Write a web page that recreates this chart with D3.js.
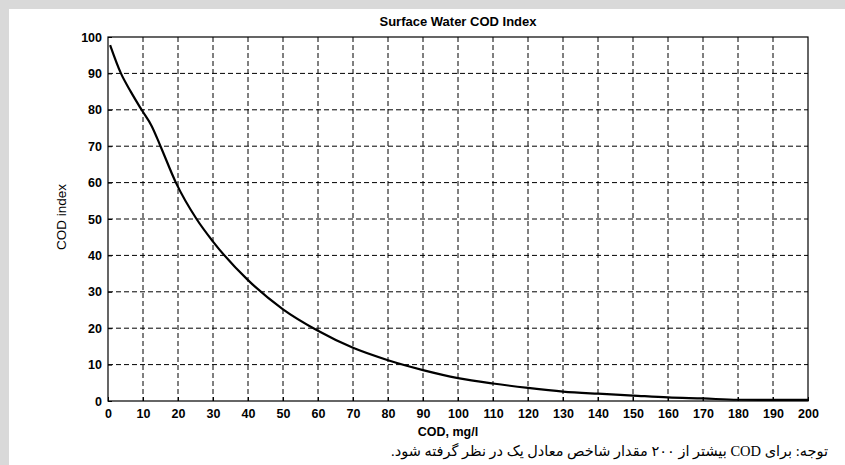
<!DOCTYPE html>
<html>
<head>
<meta charset="utf-8">
<script src="https://cdn.jsdelivr.net/npm/d3@7"></script>
<style>
  body { margin: 0; background: #d9d9d9; }
  svg { display: block; }
</style>
</head>
<body>
<svg id="chart"></svg>
<script>
// values
const codX = [0.6, 3.7, 6.5, 9.6, 12.5, 15, 19.4, 25.3, 30, 40, 50, 60, 70, 80, 90, 100, 110, 120, 130, 140, 150, 160, 170, 180, 190, 200];
const codIndex = [97.8, 90, 85, 80, 75.5, 70, 60, 50, 43.8, 33.2, 25.2, 19.3, 14.6, 11.2, 8.5, 6.3, 4.8, 3.6, 2.6, 2.0, 1.5, 1.0, 0.7, 0.35, 0.3, 0.3];
const xTicks = d3.range(0, 201, 10);
const yTicks = d3.range(0, 101, 10);

const W = 845, H = 465;
const svg = d3.select('#chart').attr('width', W).attr('height', H);

// white sheet inside grey frame
svg.append('rect').attr('x', 9).attr('y', 9).attr('width', W - 9).attr('height', H - 9).attr('fill', '#fff');

const margin = { top: 37, left: 108, right: 37, bottom: 64 };
const width = W - margin.left - margin.right;
const height = H - margin.top - margin.bottom;

const g = svg.append('g').attr('transform', `translate(${margin.left},${margin.top})`);

const x = d3.scaleLinear().domain([0, 200]).range([0, width]);
const y = d3.scaleLinear().domain([0, 100]).range([height, 0]);

// grid
g.append('g')
  .selectAll('line')
  .data(xTicks.slice(1, -1))
  .join('line')
  .attr('x1', d => x(d)).attr('x2', d => x(d))
  .attr('y1', 0).attr('y2', height)
  .attr('stroke', '#000').attr('stroke-width', 1).attr('stroke-dasharray', '5,3');

g.append('g')
  .selectAll('line')
  .data(yTicks.slice(1, -1))
  .join('line')
  .attr('y1', d => y(d)).attr('y2', d => y(d))
  .attr('x1', 0).attr('x2', width)
  .attr('stroke', '#000').attr('stroke-width', 1).attr('stroke-dasharray', '5,3');

// axes
const xAxis = g.append('g')
  .attr('transform', `translate(0,${height})`)
  .call(d3.axisBottom(x).tickValues(xTicks).tickSize(-4).tickPadding(8));
const yAxis = g.append('g')
  .call(d3.axisLeft(y).tickValues(yTicks).tickSize(-4).tickPadding(6));

[xAxis, yAxis].forEach(a => {
  a.select('.domain').remove();
  a.selectAll('text')
    .attr('font-family', 'Liberation Sans, Arial, sans-serif')
    .attr('font-size', 12.5).attr('font-weight', 'bold').attr('fill', '#000');
});

// frame
g.append('rect')
  .attr('width', width).attr('height', height)
  .attr('fill', 'none').attr('stroke', '#000').attr('stroke-width', 1.2);

// curve
const line = d3.line()
  .x((d, i) => x(codX[i]))
  .y(d => y(d))
  .curve(d3.curveMonotoneX);

g.append('path')
  .datum(codIndex)
  .attr('fill', 'none')
  .attr('stroke', '#000')
  .attr('stroke-width', 2.2)
  .attr('d', line);

// labels
svg.append('text')
  .attr('x', margin.left + width / 2).attr('y', 26)
  .attr('text-anchor', 'middle')
  .attr('font-family', 'Liberation Sans, Arial, sans-serif')
  .attr('font-size', 13).attr('font-weight', 'bold')
  .text('Surface Water COD Index');

svg.append('text')
  .attr('x', 448).attr('y', 436)
  .attr('text-anchor', 'middle')
  .attr('font-family', 'Liberation Sans, Arial, sans-serif')
  .attr('font-size', 12.5).attr('font-weight', 'bold')
  .text('COD, mg/l');

svg.append('text')
  .attr('transform', `translate(66,${margin.top + height / 2 - 2}) rotate(-90)`)
  .attr('text-anchor', 'middle')
  .attr('font-family', 'Liberation Sans, Arial, sans-serif')
  .attr('font-size', 13.5)
  .text('COD index');

svg.append('text')
  .attr('x', 828).attr('y', 456)
  .attr('text-anchor', 'start')
  .attr('direction', 'rtl')
  .attr('font-family', 'Liberation Serif, DejaVu Sans, serif')
  .attr('font-size', 14.5)
  .text('توجه: برای COD بیشتر از ۲۰۰ مقدار شاخص معادل یک در نظر گرفته شود.');
</script>
</body>
</html>
